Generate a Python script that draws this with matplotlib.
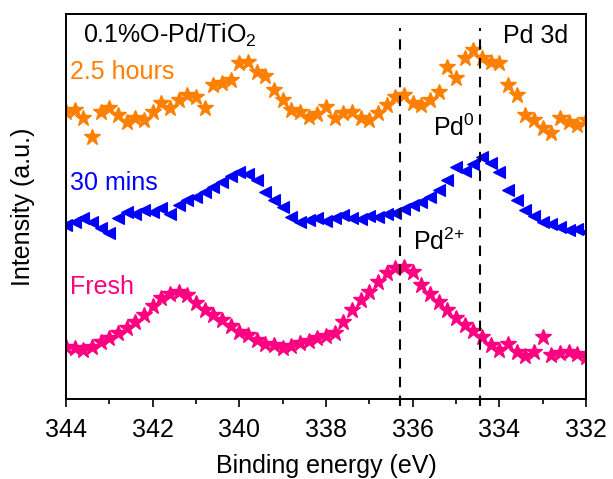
"""
Pd 3d XPS 谱图: 0.1%O-Pd/TiO2 不同处理时间
"""
import numpy as np
import matplotlib
matplotlib.use('Agg')
import matplotlib.pyplot as plt

plt.rcParams['font.family'] = ['Liberation Sans', 'DejaVu Sans']
plt.rcParams['mathtext.fontset'] = 'custom'
plt.rcParams['mathtext.rm'] = 'Liberation Sans'
plt.rcParams['mathtext.it'] = 'Liberation Sans'

# 结合能 (eV)
energy = [344.0, 343.8, 343.6, 343.4, 343.2, 343.0, 342.8, 342.6, 342.4, 342.2,
          342.0, 341.8, 341.6, 341.4, 341.2, 341.0, 340.8, 340.6, 340.4, 340.2,
          340.0, 339.8, 339.6, 339.4, 339.2, 339.0, 338.8, 338.6, 338.4, 338.2,
          338.0, 337.8, 337.6, 337.4, 337.2, 337.0, 336.8, 336.6, 336.4, 336.2,
          336.0, 335.8, 335.6, 335.4, 335.2, 335.0, 334.8, 334.6, 334.4, 334.2,
          334.0, 333.8, 333.6, 333.4, 333.2, 333.0, 332.8, 332.6, 332.4, 332.2,
          332.0]

# 强度 (a.u.), 已叠加偏移
hours_2_5 = [288, 290, 282, 263, 288, 292, 285, 278, 282, 280,
             288, 297, 292, 300, 305, 303, 292, 315, 317, 320,
             337, 338, 328, 324, 310, 300, 290, 288, 283, 286,
             293, 282, 287, 288, 282, 280, 287, 295, 303, 305,
             297, 295, 300, 308, 333, 322, 342, 350, 342, 338,
             337, 315, 305, 285, 280, 272, 267, 282, 278, 275,
             280]

mins_30 = [175, 178, 182, 178, 172, 167, 182, 188, 186, 190,
           188, 192, 186, 195, 200, 203, 208, 213, 218, 224,
           228, 226, 220, 208, 200, 193, 183, 178, 180, 182,
           179, 182, 185, 182, 181, 184, 183, 186, 187, 191,
           195, 198, 203, 210, 220, 233, 229, 236, 243, 237,
           228, 210, 200, 190, 184, 178, 176, 173, 170, 171,
           168]

fresh = [53, 52, 50, 53, 58, 62, 67, 72, 78, 85,
         94, 102, 106, 108, 105, 97, 90, 85, 80, 74,
         68, 65, 60, 56, 55, 52, 54, 57, 59, 62,
         64, 67, 78, 90, 100, 108, 118, 127, 132, 133,
         128, 115, 106, 98, 90, 82, 75, 69, 63, 55,
         50, 56, 48, 44, 48, 63, 45, 47, 48, 46,
         43]

peak_lines = [336.3, 334.45]

fig = plt.figure(figsize=(6.13, 4.79), dpi=100)
ax = fig.add_axes([0.1077, 0.167, 0.848, 0.804])

ax.plot(energy, hours_2_5, linestyle='none', marker='*', ms=12,
        color='#FF8000', mec='#FF8000')
ax.plot(energy, mins_30, linestyle='none', marker='<', ms=9,
        color='#0000FF', mfc='#0000FF', mec='#0000FF', mew=0.8)
ax.plot(energy, fresh, linestyle='none', marker='*', ms=12,
        color='#FF0080', mec='#FF0080')

for x0 in peak_lines:
    ax.axvline(x0, ymin=-0.018, ymax=0.964, color='black', linestyle=(0, (5, 4)),
               linewidth=1.5, clip_on=False)

ax.set_xlim(344, 332)
ax.set_ylim(1, 386)
ax.set_xticks(np.arange(344, 331, -2))
ax.set_xticks(np.arange(343, 332, -2), minor=True)
ax.set_yticks([])
ax.tick_params(axis='x', which='major', direction='out', length=6, width=1.2,
               labelsize=18, pad=8)
ax.tick_params(axis='x', which='minor', direction='out', length=3.5, width=1.2)
for sp in ax.spines.values():
    sp.set_linewidth(1.4)

ax.set_xlabel('Binding energy (eV)', fontsize=18, labelpad=8)
ax.set_ylabel('Intensity (a.u.)', fontsize=18, labelpad=22)

ax.text(0.033, 0.943, '0.1%O-Pd/TiO$_2$', transform=ax.transAxes,
        fontsize=18, va='center', ha='left')
ax.text(0.008, 0.849, '2.5 hours', transform=ax.transAxes,
        fontsize=18, va='center', ha='left', color='#FF8000')
ax.text(0.008, 0.561, '30 mins', transform=ax.transAxes,
        fontsize=18, va='center', ha='left', color='#0000FF')
ax.text(0.008, 0.291, 'Fresh', transform=ax.transAxes,
        fontsize=18, va='center', ha='left', color='#FF0080')
ax.text(0.840, 0.943, 'Pd 3d', transform=ax.transAxes,
        fontsize=18, va='center', ha='left')
ax.text(0.706, 0.704, 'Pd$^0$', transform=ax.transAxes,
        fontsize=18, va='center', ha='left')
ax.text(0.667, 0.408, 'Pd$^{2{+}}$', transform=ax.transAxes,
        fontsize=18, va='center', ha='left')

fig.savefig('out.png', dpi=100)
plt.close(fig)
